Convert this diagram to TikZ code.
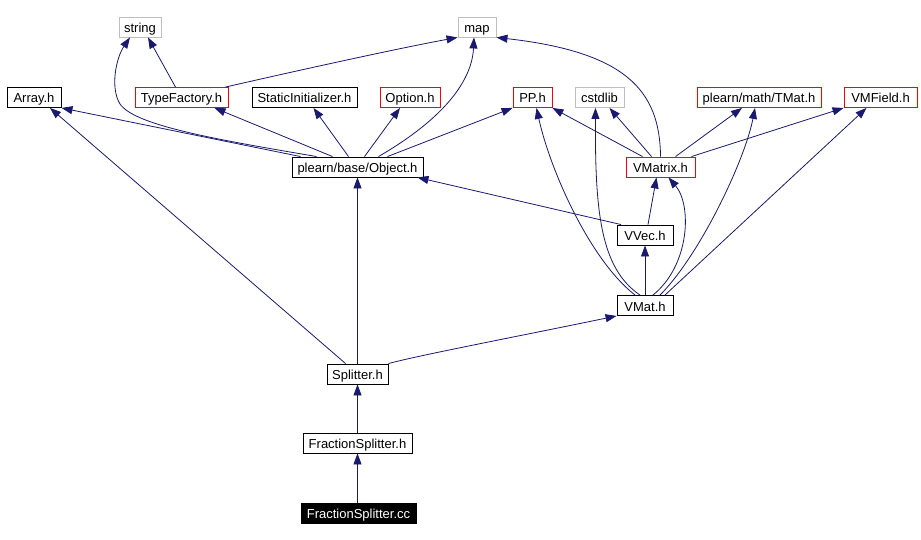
\documentclass[tikz,border=0pt]{standalone}
\usepackage{fontspec}
\setmainfont{Liberation Sans}
\usetikzlibrary{arrows.meta}
\definecolor{edgeblue}{RGB}{25,25,112}
\definecolor{sysgray}{RGB}{191,191,191}

\begin{document}
\begin{tikzpicture}[x=1pt, y=-1pt,
    hdr/.style={draw=black, line width=0.9pt, minimum height=20pt, inner sep=0pt,
      text height=11pt, text depth=0pt, font=\fontsize{13}{14}\selectfont},
    redhdr/.style={hdr, draw=red},
    syshdr/.style={hdr, draw=sysgray},
    dep/.style={edgeblue, line width=0.8pt, -{Triangle[length=11pt,width=8pt]}}]
    \useasboundingbox (0,0) rectangle (921,540);

    % headers
    \node[syshdr, minimum width=42pt] (str) at (140,27) {string};
    \node[syshdr, minimum width=38pt] (map) at (477,27) {map};
    \node[hdr, minimum width=54pt] (arr) at (34,97.5) {Array.h};
    \node[redhdr, minimum width=93pt] (tf) at (181.5,97.5) {TypeFactory.h};
    \node[hdr, minimum width=105pt] (si) at (304.5,97.5) {StaticInitializer.h};
    \node[redhdr, minimum width=60pt] (opt) at (410,97.5) {Option.h};
    \node[redhdr, minimum width=39pt] (pp) at (532.5,97.5) {PP.h};
    \node[syshdr, minimum width=49pt] (cs) at (599.5,97.5) {cstdlib};
    \node[redhdr, minimum width=124pt] (tm) at (759,97.5) {plearn/math/TMat.h};
    \node[redhdr, minimum width=73pt] (vmf) at (880.5,97.5) {VMField.h};
    \node[hdr, minimum width=131pt] (obj) at (357.5,167) {plearn/base/Object.h};
    \node[redhdr, minimum width=69pt] (vmx) at (660.5,167) {VMatrix.h};
    \node[hdr, minimum width=56pt] (vvec) at (645,235) {VVec.h};
    \node[hdr, minimum width=56pt] (vmat) at (645,305.5) {VMat.h};
    \node[hdr, minimum width=61pt] (spl) at (357.5,374) {Splitter.h};
    \node[hdr, minimum width=109pt] (fsh) at (357.5,443) {FractionSplitter.h};
    \node[hdr, fill=black, text=white, minimum width=115pt] (cc) at (358.5,513) {FractionSplitter.cc};

    % includes
    \draw[dep] (fsh.south |- cc.north) -- (fsh.south);
    \draw[dep] (fsh) -- (spl);
    \draw[dep] (spl) -- (obj);
    \draw[dep] ([xshift=19]spl.north west) -- ([xshift=16]arr.south);
    \draw[dep] (spl.north east) .. controls (420,355) and (520,336) .. (vmat.south west);

    \draw[dep] ([xshift=-57]obj.north) -- (arr.south east);
    \draw[dep] ([xshift=-41]obj.north) .. controls (220,140) and (135,126) .. (120,104) .. controls (110,88) and (116,58) .. ([xshift=-10]str.south);
    \draw[dep] ([xshift=-25]obj.north) -- ([xshift=33]tf.south);
    \draw[dep] ([xshift=-9]obj.north) -- ([xshift=9]si.south);
    \draw[dep] ([xshift=7]obj.north) -- ([xshift=-10]opt.south);
    \draw[dep] ([xshift=21]obj.north) .. controls (445,118) and (472,80) .. ([xshift=-3]map.south);
    \draw[dep] ([xshift=30]obj.north) -- (pp.south west);

    \draw[dep] ([xshift=-6]tf.north) -- ([xshift=8]str.south);
    \draw[dep] ([xshift=-3]tf.north east) .. controls (300,70) and (400,48) .. (map.south west);

    \draw[dep] (vmx.north) .. controls (660,90) and (625,52) .. (map.south east);
    \draw[dep] ([xshift=-18]vmx.north) -- (pp.south east);
    \draw[dep] ([xshift=-9]vmx.north) -- ([xshift=10]cs.south);
    \draw[dep] ([xshift=15]vmx.north) -- ([xshift=-17]tm.south);
    \draw[dep] ([xshift=31]vmx.north) -- (vmf.south west);

    \draw[dep] ([xshift=-24]vvec.north) -- ([xshift=-6]obj.south east);
    \draw[dep] ([xshift=3]vvec.north) -- ([xshift=-4]vmx.south);

    \draw[dep] (vmat) -- (vvec);
    \draw[dep] ([xshift=8]vmat.north) .. controls (690,265) and (692,205) .. ([xshift=8]vmx.south);
    \draw[dep] ([xshift=-10]vmat.north) .. controls (590,260) and (550,170) .. ([xshift=4]pp.south);
    \draw[dep] ([xshift=-5]vmat.north) .. controls (600,268) and (595,210) .. ([xshift=-4]cs.south);
    \draw[dep] ([xshift=15]vmat.north) .. controls (700,255) and (745,160) .. ([xshift=-4]tm.south);
    \draw[dep] ([xshift=20]vmat.north) -- ([xshift=-14]vmf.south);
\end{tikzpicture}
\end{document}
